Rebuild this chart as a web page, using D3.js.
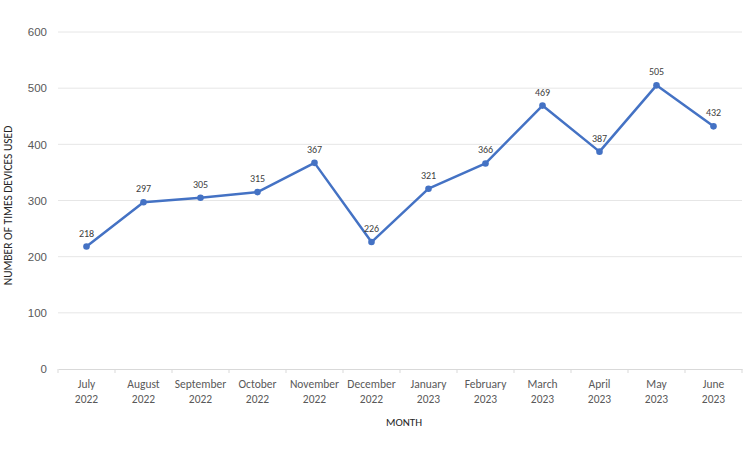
<!DOCTYPE html>
<html>
<head>
<meta charset="utf-8">
<script src="https://cdn.jsdelivr.net/npm/d3@7"></script>
<style>
  html, body { margin: 0; padding: 0; background: #fff; }
  svg { display: block; font-family: Carlito, "Open Sans", "Liberation Sans", sans-serif; }
</style>
</head>
<body>
<svg id="chart" width="743" height="450"></svg>
<script>
const months = ["July", "August", "September", "October", "November", "December", "January", "February", "March", "April", "May", "June"];
const years = ["2022", "2022", "2022", "2022", "2022", "2022", "2023", "2023", "2023", "2023", "2023", "2023"];
const usage = [218, 297, 305, 315, 367, 226, 321, 366, 469, 387, 505, 432];
const yTicks = [0, 100, 200, 300, 400, 500, 600];

const svg = d3.select("#chart");
const margin = { left: 58, right: 1, top: 32, bottom: 81 };
const W = 743, H = 450;
const keys = months.map((m, i) => i);

const x = d3.scaleBand().domain(keys).range([margin.left, W - margin.right]).padding(0);
const y = d3.scaleLinear().domain([0, 600]).range([H - margin.bottom, margin.top]);

// gridlines
svg.append("g").selectAll("line").data(yTicks.filter(d => d > 0)).join("line")
  .attr("x1", margin.left).attr("x2", W - margin.right)
  .attr("y1", d => y(d)).attr("y2", d => y(d))
  .attr("stroke", "#e6e6e6").attr("stroke-width", 1);

// y axis labels
const yAxis = d3.axisLeft(y).tickValues(yTicks).tickSize(0).tickPadding(11);
const gy = svg.append("g").attr("transform", `translate(${margin.left},0)`).call(yAxis);
gy.select(".domain").remove();
gy.selectAll("text").attr("fill", "#595959").attr("font-size", "11.5px");

// x axis
const xAxis = d3.axisBottom(x).tickSize(0).tickFormat(() => "");
const gx = svg.append("g").attr("transform", `translate(0,${y(0)})`).call(xAxis);
gx.select(".domain").attr("stroke", "#d9d9d9");
gx.selectAll(".tick line").remove();
// tick marks at band boundaries
svg.append("g").selectAll("line").data(d3.range(13)).join("line")
  .attr("x1", i => margin.left + i * x.step()).attr("x2", i => margin.left + i * x.step())
  .attr("y1", y(0)).attr("y2", y(0) + 4)
  .attr("stroke", "#d9d9d9");

const labels = svg.append("g").selectAll("text").data(keys).join("text")
  .attr("x", i => x(i) + x.bandwidth() / 2)
  .attr("text-anchor", "middle")
  .attr("fill", "#595959").attr("font-size", "11.5px");
labels.append("tspan").attr("x", i => x(i) + x.bandwidth() / 2).attr("y", y(0) + 19).text(i => months[i]);
labels.append("tspan").attr("x", i => x(i) + x.bandwidth() / 2).attr("y", y(0) + 34).text(i => years[i]);

// line
const line = d3.line().x((d, i) => x(i) + x.bandwidth() / 2).y(d => y(d));
svg.append("path").datum(usage).attr("d", line)
  .attr("fill", "none").attr("stroke", "#4472C4").attr("stroke-width", 2.5)
  .attr("stroke-linejoin", "round");

svg.append("g").selectAll("circle").data(usage).join("circle")
  .attr("cx", (d, i) => x(i) + x.bandwidth() / 2).attr("cy", d => y(d)).attr("r", 3.3)
  .attr("fill", "#4472C4");

svg.append("g").selectAll("text").data(usage).join("text")
  .attr("x", (d, i) => x(i) + x.bandwidth() / 2).attr("y", d => y(d) - 10)
  .attr("text-anchor", "middle").attr("fill", "#404040").attr("font-size", "10px")
  .text(d => d);

// axis titles
svg.append("text").attr("x", (margin.left + W - margin.right) / 2 + 4).attr("y", 426)
  .attr("text-anchor", "middle").attr("fill", "#262626").attr("font-size", "11px")
  .text("MONTH");
svg.append("text").attr("transform", `translate(12,${(y(0) + y(600)) / 2 + 5}) rotate(-90)`)
  .attr("text-anchor", "middle").attr("fill", "#262626").attr("font-size", "11.5px")
  .text("NUMBER OF TIMES DEVICES USED");
</script>
</body>
</html>
